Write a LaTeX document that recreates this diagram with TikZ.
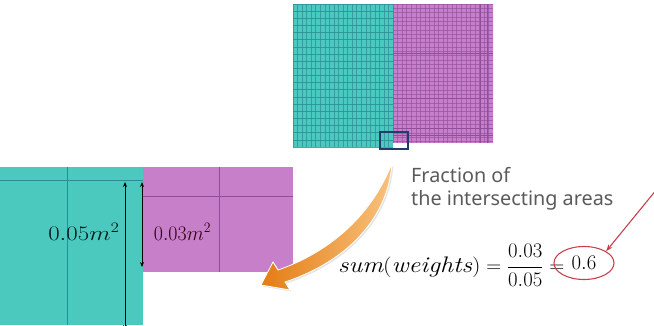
\documentclass[tikz,border=0pt]{standalone}
\usepackage{fontspec}
\newfontfamily\labelfont{Noto Sans}
\usetikzlibrary{arrows.meta,shapes.geometric}
\definecolor{tealfill}{HTML}{4CC9BF}
\definecolor{tealline}{HTML}{2A8C98}
\definecolor{purpfill}{HTML}{C67FC8}
\definecolor{purpline}{HTML}{8E4E9C}
\definecolor{navy}{HTML}{1F3D6B}
\definecolor{redc}{HTML}{C8404E}
\definecolor{orangeA}{HTML}{F8C27E}
\definecolor{orangeB}{HTML}{E47C14}
\definecolor{graytext}{HTML}{5A5A5A}
\tikzset{
  dimarrow/.style={line width=0.9pt, {Stealth[length=5pt,width=4pt]}-{Stealth[length=5pt,width=4pt]}},
  arealabel/.style={font=\fontsize{21}{24}\selectfont, inner sep=0pt},
  redarrow/.style={draw=redc, line width=1.1pt, -{Stealth[length=7pt,width=5pt]}},
}
\begin{document}
\begin{tikzpicture}[x=1pt,y=-1pt]
\useasboundingbox (0,0) rectangle (654,325);
% ---------- top mesh ----------
\fill[tealfill] (293,4) rectangle (393,147);
\fill[purpfill] (393,4) rectangle (493,143);
\begin{scope}
\clip (293,4) rectangle (393,147);
\foreach \i in {0,...,22} \draw[tealline, line width=0.6pt, opacity=0.7] ({293+\i*4.55},4) -- ({293+\i*4.55},147);
\foreach \j in {0,...,20} \draw[tealline, line width=0.7pt, opacity=0.8] (293,{4+\j*7.15}) -- (393,{4+\j*7.15});
\end{scope}
\begin{scope}
\clip (393,4) rectangle (493,143);
\foreach \i in {0,...,22} \draw[purpline, line width=0.5pt, opacity=0.6] ({393+\i*4.55},4) -- ({393+\i*4.55},143);
\foreach \j in {0,...,33} \draw[purpline, line width=0.5pt, opacity=0.6] (393,{4+\j*4.3}) -- (493,{4+\j*4.3});
\foreach \y in {53,98,128,135} \draw[purpline, line width=0.8pt] (393,\y) -- (493,\y);
\foreach \x in {480,487} \draw[purpline, line width=0.8pt] (\x,4) -- (\x,143);
\end{scope}
\node[draw=navy, line width=1.4pt, minimum width=28pt, minimum height=17pt, inner sep=0pt] (sel) at (394,140.5) {};
% ---------- zoomed cells ----------
\fill[tealfill] (0,167) rectangle (143,325);
\fill[purpfill] (143,167) rectangle (293,272);
\draw[tealline, line width=0.8pt] (0,180) -- (143,180);
\draw[tealline, line width=0.8pt] (67,167) -- (67,325);
\draw[purpline, line width=0.8pt] (143,196) -- (293,196);
\draw[purpline, line width=0.8pt] (219,167) -- (219,272);
\coordinate (a1) at (125,182);
\coordinate (a2) at (125,330);
\coordinate (b1) at (142,182);
\coordinate (b2) at (142,267);
\draw[dimarrow] (a1) -- (a2);
\draw[dimarrow] (b1) -- (b2);
\node[arealabel, text=black!80!teal] (l05) at (84,232) {\scalebox{1.2}[1]{$0.05m^2$}};
\node[arealabel, text=black!75!purple] (l03) at (182.5,232) {\scalebox{0.96}[1]{$0.03m^2$}};
% ---------- orange arrow ----------
\fill[black!10, xshift=1.5pt, yshift=-1.5pt]
  (392,163) .. controls (372,215) and (330,252) .. (278,270)
  -- (273,262) -- (261,285) -- (290,290) -- (285,282)
  .. controls (345,262) and (388,220) .. cycle;
\shade[shading angle=60, left color=orangeB, right color=orangeA, draw=white, line width=0.8pt]
  (392,163) .. controls (372,215) and (330,252) .. (278,270)
  -- (273,262) -- (261,285) -- (290,290) -- (285,282)
  .. controls (345,262) and (388,220) .. cycle;
% ---------- text ----------
\node[anchor=north west, align=left, inner sep=0pt, text=graytext, font=\labelfont\fontsize{19.8}{23}\selectfont] (frac) at (411,167) {Fraction of\\the intersecting areas};
\node[anchor=base west, inner sep=0pt, font=\fontsize{22.5}{26}\selectfont] (eq) at (338,272)
  {\scalebox{1.16}[1]{$\mathit{sum}(\mathit{weights})$}$\;=\displaystyle\frac{0.03}{0.05} =$};
\node[ellipse, draw=redc, line width=1.1pt, minimum width=60pt, minimum height=33pt, inner sep=0pt, font=\fontsize{22.5}{26}\selectfont] (val) at (584,263) {$0.6$};
\coordinate (rs) at (657,189);
\draw[redarrow] (rs) -- (val.28);
\end{tikzpicture}
\end{document}
